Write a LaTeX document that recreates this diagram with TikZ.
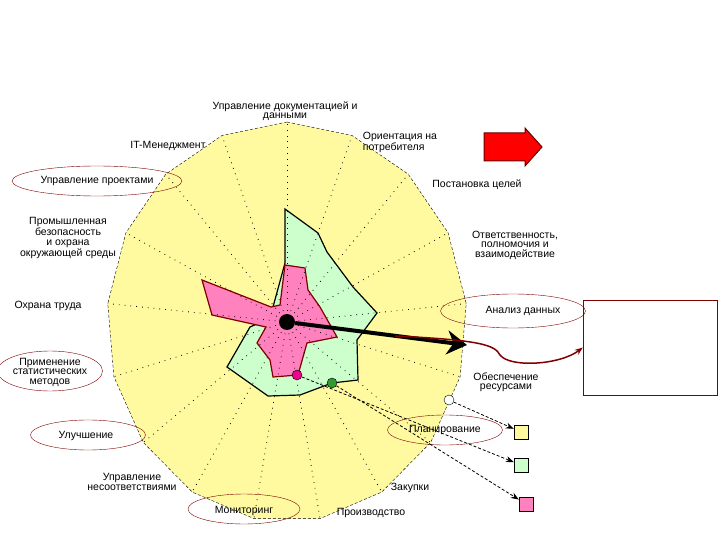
\documentclass[tikz,border=0pt]{standalone}
\usepackage{fontspec}
\setmainfont{Liberation Sans}
\usetikzlibrary{arrows.meta,shapes.geometric,positioning}
\definecolor{chartyellow}{RGB}{255,250,160}
\definecolor{chartgreen}{RGB}{204,255,204}
\definecolor{chartpink}{RGB}{255,130,190}
\definecolor{darkred}{RGB}{128,0,0}
\begin{document}
\begin{tikzpicture}[x=1pt,y=-1pt,
    lbl/.style={font=\fontsize{10.5}{9.5}\selectfont, align=center, inner sep=1pt},
    ring/.style={ellipse, draw=darkred, thin, minimum width=#1, minimum height=30pt},
    dot/.style={circle, draw=black, minimum size=10pt, inner sep=0pt},
    key/.style={draw=black, minimum size=14pt, inner sep=0pt},
    link/.style={densely dashed, thick, -{Stealth[length=8pt]}},
    axis/.style={line width=0.8pt, dash pattern=on 0.8pt off 5pt}
  ]
  \useasboundingbox (0,0) rectangle (720,540);

  % outer polygon and axes
  \coordinate (c) at (287,322);
  \foreach \i in {0,...,16}
    \coordinate (v\i) at ({287+180*cos(90-\i*360/17)},{322-200*sin(90-\i*360/17)});
  \fill[chartyellow] (v0) \foreach \i in {1,...,16} {-- (v\i)} -- cycle;
  \draw[dash pattern=on 3pt off 2pt, thin] (v0) \foreach \i in {1,...,16} {-- (v\i)} -- cycle;

  % data polygons
  \draw[line width=1.2pt, fill=chartgreen] (285,209) -- (318,233) -- (327,252) -- (353,287)
    -- (377,313) -- (357,340) -- (358,380) -- (332,383) -- (300,395) -- (268,396)
    -- (227,367) -- (250,327) -- (270,318) -- (285,263) -- cycle;
  \draw[line width=1.2pt, draw=darkred, fill=chartpink] (285,265) -- (305,268) -- (308,290)
    -- (320,307) -- (337,337) -- (307,343) -- (298,375) -- (273,377) -- (270,360)
    -- (257,343) -- (266,327) -- (212,315) -- (202,280) -- (271,307) -- (280,305) -- cycle;
  \foreach \i in {0,...,16}
    \draw[axis] (c) -- (v\i);

  % labels
  \node[lbl] (docs) at (285,111) {Управление документацией и\\данными};
  \node[lbl] (it) at (168,146) {IT-Менеджмент};
  \node[lbl, align=left] (client) at (400,142) {Ориентация на\\потребителя};
  \node[lbl] (projects) at (97,181) {Управление проектами};
  \node[lbl] (goals) at (477,185) {Постановка целей};
  \node[lbl] (safety) at (68,238) {Промышленная\\безопасность\\и охрана\\окружающей среды};
  \node[lbl] (resp) at (515,245) {Ответственность,\\полномочия и\\взаимодействие};
  \node[lbl] (labour) at (48,306) {Охрана труда};
  \node[lbl] (analysis) at (523,311) {Анализ данных};
  \node[lbl] (stats) at (50,372) {Применение\\статистических\\методов};
  \node[lbl] (resources) at (506,382) {Обеспечение\\ресурсами};
  \node[lbl] (improve) at (86,436) {Улучшение};
  \node[lbl] (planning) at (445,430) {Планирование};
  \node[lbl] (nonconf) at (132,482) {Управление\\несоответствиями};
  \node[lbl] (purchase) at (410,488) {Закупки};
  \node[lbl] (monitor) at (244,511) {Мониторинг};
  \node[lbl] (produce) at (371,513) {Производство};

  % highlight rings
  \node[ring=145pt, minimum height=34pt] at (513,311) {};
  \node[ring=115pt] at (445,430) {};
  \node[ring=115pt] at (88,435) {};
  \node[ring=112pt] at (244,509) {};
  \node[ring=105pt, minimum height=40pt] at (50,371) {};
  \node[ring=170pt] at (97,181) {};

  % centre, arrows and box
  \node[circle, fill=black, minimum size=16pt, inner sep=0pt] (hub) at (c) {};
  \coordinate (tip) at (467,345);
  \draw[line width=4pt, -{Stealth[length=20pt,width=24pt]}] (hub) -- (tip);
  \node[draw=darkred, minimum width=134pt, minimum height=95pt] (box) at (650,347.5) {};
  \coordinate (curvestart) at (395,336);
  \draw[darkred, line width=1.5pt, -{Stealth[length=8pt]}] (curvestart)
    .. controls (480,340) and (495,345) .. (500,355)
    .. controls (510,368) and (560,365) .. (box.west);
  \draw[draw=darkred!80!black, fill=red, line width=1pt] (484,133) -- (525,133) -- (525,128)
    -- (542,147) -- (525,166) -- (525,161) -- (484,161) -- cycle;

  % legend
  \node[dot, fill=magenta] (pinkdot) at (297,375) {};
  \node[dot, fill=green!50!black!80] (greendot) at (332,383) {};
  \node[dot, fill=white] (whitedot) at (449,400) {};
  \node[key, fill=chartyellow] (keyyellow) at (521,432) {};
  \node[key, fill=chartgreen] (keygreen) at (521,465) {};
  \node[key, fill=chartpink] (keypink) at (526,504) {};
  \draw[link] (whitedot) -- (keyyellow);
  \draw[link] (pinkdot) -- (keygreen);
  \draw[link] (greendot) -- (keypink);
\end{tikzpicture}
\end{document}
